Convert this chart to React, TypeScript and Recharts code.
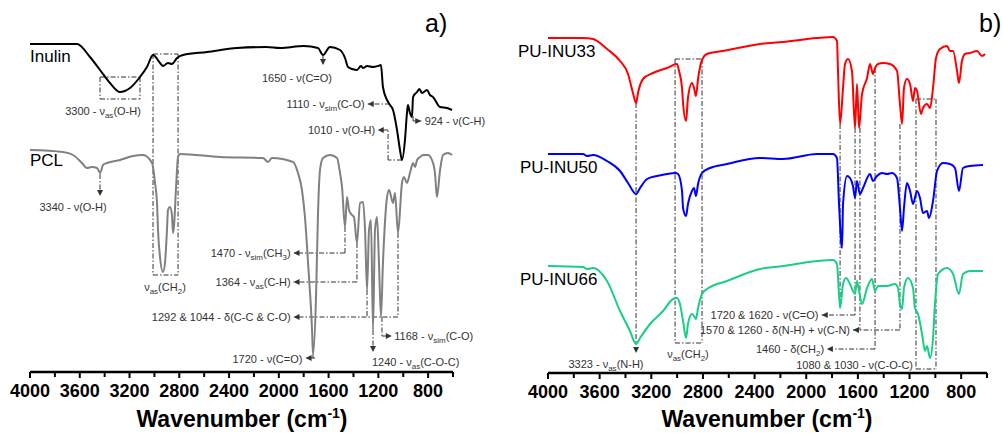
import React from 'react';
import { LineChart, Line, XAxis, YAxis, ReferenceLine, ReferenceDot } from 'recharts';

const FONT = '"Liberation Sans", Arial, Helvetica, sans-serif';
const INK = '#333333';

// [wavenumber (cm-1), transmittance (a.u., spectra stacked with offsets)]
const inulin: [number, number][] = [
  [4000, 328], [3622, 328], [3518, 315], [3437, 302], [3357, 289], [3277, 280], [3196, 284],
  [3116, 295], [3060, 305], [3011, 317], [2955, 309], [2931, 306], [2891, 309], [2859, 308],
  [2818, 314], [2770, 317], [2577, 320], [2336, 324], [2100, 325], [1990, 324], [1800, 326],
  [1685, 324], [1645, 317], [1589, 325], [1508, 322], [1468, 314], [1444, 305], [1410, 303],
  [1372, 302], [1340, 306], [1323, 304], [1290, 306], [1243, 305], [1203, 306], [1179, 307],
  [1163, 285], [1130, 272], [1106, 267], [1082, 262], [1050, 242], [1026, 222], [1010, 212],
  [986, 232], [970, 259], [962, 267], [946, 259], [930, 255], [921, 275], [889, 280],
  [870, 283], [849, 279], [809, 282], [785, 277], [761, 275], [704, 265], [648, 264], [608, 262],
];

const pcl: [number, number][] = [
  [4000, 222], [3735, 220], [3654, 217], [3582, 209], [3542, 204], [3502, 205], [3461, 204],
  [3437, 199], [3413, 207], [3381, 209], [3277, 212], [3172, 216], [3092, 217], [3019, 209],
  [2995, 189], [2979, 169], [2971, 142], [2955, 115], [2931, 100], [2915, 109], [2899, 142],
  [2891, 162], [2875, 165], [2859, 157], [2851, 139], [2843, 145], [2826, 185], [2810, 215],
  [2794, 218], [2473, 215], [2127, 214], [2087, 210], [2055, 214], [1886, 210], [1846, 199],
  [1814, 182], [1790, 155], [1765, 109], [1733, 42], [1725, 17], [1701, 75], [1685, 159],
  [1669, 202], [1645, 214], [1589, 217], [1532, 214], [1508, 199], [1492, 185], [1468, 145],
  [1452, 175], [1436, 162], [1412, 157], [1396, 155], [1372, 129], [1347, 169], [1323, 170],
  [1307, 142], [1291, 82], [1275, 142], [1259, 152], [1243, 42], [1227, 142], [1211, 155],
  [1195, 109], [1179, 55], [1163, 109], [1130, 175], [1114, 182], [1082, 169], [1066, 179],
  [1042, 139], [1010, 189], [994, 195], [970, 189], [946, 199], [921, 209], [905, 205],
  [889, 212], [865, 215], [841, 217], [801, 217], [769, 212], [745, 199], [729, 175],
  [704, 202], [680, 217], [640, 219], [608, 217],
];

const puInu33: [number, number][] = [
  [4000, 335], [3729, 335], [3651, 334], [3543, 324], [3442, 312], [3380, 299], [3342, 280],
  [3318, 270], [3303, 280], [3264, 294], [3187, 300], [3078, 305], [3001, 309], [2985, 302],
  [2962, 285], [2954, 270], [2931, 252], [2916, 275], [2885, 290], [2869, 285], [2854, 277],
  [2838, 294], [2807, 313], [2769, 319], [2645, 322], [2358, 329], [2180, 331], [1917, 335],
  [1793, 336], [1762, 332], [1754, 302], [1738, 249], [1715, 285], [1700, 309], [1676, 314],
  [1646, 302], [1622, 245], [1607, 289], [1591, 245], [1568, 279], [1529, 295], [1506, 309],
  [1483, 299], [1467, 305], [1444, 309], [1405, 310], [1351, 309], [1297, 302], [1274, 269],
  [1258, 249], [1243, 285], [1220, 294], [1196, 289], [1173, 272], [1158, 285], [1142, 282],
  [1111, 259], [1096, 265], [1065, 269], [1041, 265], [1018, 285], [995, 315], [964, 324],
  [910, 327], [887, 322], [863, 322], [832, 302], [817, 290], [794, 312], [770, 319],
  [732, 320], [677, 322], [639, 317], [615, 319],
];

const puInu50: [number, number][] = [
  [4000, 219], [3729, 219], [3698, 217], [3651, 218], [3543, 212], [3442, 202], [3380, 190],
  [3318, 179], [3287, 185], [3233, 194], [3156, 197], [3078, 199], [3016, 200], [2993, 199],
  [2962, 182], [2954, 165], [2931, 157], [2916, 169], [2885, 182], [2869, 185], [2854, 177],
  [2838, 189], [2807, 200], [2745, 205], [2614, 209], [2358, 215], [2180, 214], [1917, 219],
  [1793, 219], [1762, 215], [1746, 169], [1723, 125], [1715, 169], [1684, 197], [1661, 195],
  [1638, 187], [1622, 175], [1607, 192], [1584, 179], [1560, 185], [1506, 199], [1483, 192],
  [1452, 197], [1413, 200], [1374, 199], [1336, 200], [1297, 195], [1274, 165], [1258, 142],
  [1243, 165], [1220, 190], [1196, 182], [1173, 169], [1142, 182], [1119, 175], [1096, 160],
  [1065, 162], [1049, 155], [1018, 172], [987, 202], [941, 210], [887, 209], [848, 205],
  [817, 182], [786, 205], [732, 207], [631, 208],
];

const puInu66: [number, number][] = [
  [4000, 107], [3729, 106], [3698, 104], [3651, 105], [3543, 92], [3442, 62], [3365, 42],
  [3318, 29], [3287, 35], [3210, 49], [3109, 62], [3032, 74], [3001, 75], [2978, 69],
  [2954, 52], [2931, 35], [2916, 49], [2885, 59], [2869, 57], [2854, 54], [2838, 65],
  [2807, 79], [2769, 84], [2614, 92], [2358, 104], [2180, 107], [1917, 112], [1793, 113],
  [1762, 109], [1738, 65], [1715, 89], [1692, 95], [1661, 89], [1638, 82], [1622, 79],
  [1607, 92], [1591, 82], [1568, 69], [1529, 85], [1491, 94], [1467, 82], [1444, 87],
  [1374, 87], [1312, 89], [1289, 85], [1274, 69], [1258, 64], [1243, 85], [1212, 95],
  [1173, 85], [1158, 65], [1134, 59], [1103, 39], [1080, 22], [1065, 27], [1041, 15],
  [1018, 35], [1003, 69], [979, 99], [910, 105], [863, 99], [817, 79], [786, 99],
  [732, 102], [631, 102],
];

const wnTicks = [4000, 3800, 3600, 3400, 3200, 3000, 2800, 2600, 2400, 2200, 2000, 1800, 1600, 1400, 1200, 1000, 800, 600];
const wnLabels = [4000, 3600, 3200, 2800, 2400, 2000, 1600, 1200, 800];

type Seg = [number, number, number, number];
type Arrow = [number, number, 'left' | 'right' | 'down'];
type Note = [number, number, 'start' | 'middle' | 'end', string];

// panel a) band assignments
const segsA: Seg[] = [
  [3437, 295, 3116, 295], [3437, 273, 3116, 273], [3437, 295, 3437, 273], [3116, 295, 3116, 273],
  [3011, 318, 2810, 318], [3011, 97, 2810, 97], [3011, 318, 3011, 97], [2810, 318, 2810, 97],
  [1645, 316, 1645, 308],
  [1106, 268, 1285, 268],
  [1010, 212, 1122, 212], [1122, 212, 1122, 242], [1122, 242, 1205, 242],
  [921, 256, 921, 251], [921, 251, 855, 251],
  [3437, 198, 3437, 178],
  [1468, 145, 1468, 119], [1468, 119, 1882, 119],
  [1372, 129, 1372, 90], [1372, 90, 1882, 90],
  [1291, 82, 1291, 55], [1042, 139, 1042, 55], [1042, 55, 1882, 55],
  [1171, 55, 1171, 36], [1171, 36, 1092, 36],
  [1243, 42, 1243, 22],
  [1725, 17, 1725, 14], [1709, 14, 1785, 14],
];
const arrowsA: Arrow[] = [
  [1645, 307, 'down'], [1285, 268, 'left'], [1205, 242, 'left'], [855, 251, 'right'],
  [3437, 176, 'down'], [1882, 119, 'left'], [1882, 90, 'left'], [1882, 55, 'left'],
  [1092, 36, 'right'], [1243, 20, 'down'], [1785, 14, 'left'],
];
const notesA: Note[] = [
  [3413, 261, 'middle', '3300 - ν_{as}(O-H)'],
  [2915, 85, 'middle', 'ν_{as}(CH_{2})'],
  [1854, 294, 'middle', '1650 - ν(C=O)'],
  [1310, 268, 'end', '1110 - ν_{sim}(C-O)'],
  [1225, 242, 'end', '1010 - ν(O-H)'],
  [828, 251, 'start', '924 - ν(C-H)'],
  [3654, 165, 'middle', '3340 - ν(O-H)'],
  [1905, 119, 'end', '1470 - ν_{sim}(CH_{3})'],
  [1905, 90, 'end', '1364 - ν_{as}(C-H)'],
  [1905, 55, 'end', '1292 & 1044 - δ(C-C & C-O)'],
  [1072, 36, 'start', '1168 - ν_{sim}(C-O)'],
  [1251, 10, 'start', '1240 - ν_{as}(C-O-C)'],
  [1810, 13, 'end', '1720 - ν(C=O)'],
];

// panel b) band assignments
const segsB: Seg[] = [
  [3318, 270, 3318, 29],
  [3016, 314, 2807, 314], [3016, 30, 2807, 30], [3016, 314, 3016, 30], [2807, 314, 2807, 30],
  [1738, 249, 1738, 65],
  [1622, 245, 1622, 58], [1622, 58, 1880, 58],
  [1584, 245, 1584, 43], [1274, 249, 1274, 43], [1274, 43, 1638, 43],
  [1467, 305, 1467, 24], [1467, 24, 1840, 24],
  [1150, 274, 995, 274], [1150, 4, 995, 4], [1150, 274, 1150, 4], [995, 274, 995, 4],
];
const arrowsB: Arrow[] = [
  [3318, 20, 'down'], [1880, 58, 'left'], [1638, 43, 'left'], [1840, 24, 'left'],
];
const notesB: Note[] = [
  [3551, 9, 'middle', '3323 - ν_{as}(N-H)'],
  [2916, 19, 'middle', 'ν_{as}(CH_{2})'],
  [1905, 58, 'end', '1720 & 1620 - ν(C=O)'],
  [1661, 43, 'end', '1570 & 1260 - δ(N-H) + ν(C-N)'],
  [1862, 24, 'end', '1460 - δ(CH_{2})'],
  [1173, 8, 'end', '1080 & 1030 - ν(C-O-C)'],
];

const rows = (pts: [number, number][]) => pts.map(([wn, t]) => ({ wn, t }));

// text with _{...} subscripts
const RichText = ({ x, y, anchor, text }: { x: number; y: number; anchor: string; text: string }) => {
  const parts = text.split(/(_\{[^}]*\})/).filter(Boolean);
  let wasSub = false;
  return (
    <text x={x} y={y + 4} textAnchor={anchor as any} fontSize={11} fontFamily={FONT} fill={INK}>
      {parts.map((p, i) => {
        if (p.startsWith('_{')) {
          wasSub = true;
          return <tspan key={i} fontSize={8} dy={3}>{p.slice(2, -1)}</tspan>;
        }
        const dy = wasSub ? -3 : 0;
        wasSub = false;
        return <tspan key={i} dy={dy}>{p}</tspan>;
      })}
    </text>
  );
};

const arrowPath = (x: number, y: number, dir: string) => {
  if (dir === 'left') return `M${x},${y} L${x + 6},${y - 3} L${x + 6},${y + 3} Z`;
  if (dir === 'right') return `M${x},${y} L${x - 6},${y - 3} L${x - 6},${y + 3} Z`;
  return `M${x},${y} L${x - 3},${y - 6} L${x + 3},${y - 6} Z`;
};

const WnTick = (props: any) => {
  const { x, y, payload } = props;
  const major = wnLabels.includes(payload.value);
  return (
    <g>
      <line x1={x} x2={x} y1={y} y2={y + (major ? 6 : 5)} stroke="#000" strokeWidth={2} />
      {major && (
        <text x={x} y={y + 25} textAnchor="middle" fontSize={18} fontWeight="bold" fontFamily={FONT} fill="#000">
          {payload.value}
        </text>
      )}
    </g>
  );
};

const annotations = (id: string, segs: Seg[], arrows: Arrow[], notes: Note[]) => [
  ...segs.map((s, i) => (
    <ReferenceLine
      key={`${id}-s${i}`}
      segment={[{ x: s[0], y: s[1] }, { x: s[2], y: s[3] }]}
      stroke={INK}
      strokeWidth={1}
      strokeDasharray="5 2 1.5 2"
    />
  )),
  ...arrows.map((a, i) => (
    <ReferenceDot
      key={`${id}-a${i}`}
      x={a[0]}
      y={a[1]}
      r={0}
      shape={(p: any) => <path d={arrowPath(p.cx, p.cy, a[2])} fill={INK} />}
    />
  )),
  ...notes.map((n, i) => (
    <ReferenceDot
      key={`${id}-n${i}`}
      x={n[0]}
      y={n[1]}
      r={0}
      shape={(p: any) => <RichText x={p.cx} y={p.cy} anchor={n[2]} text={n[3]} />}
    />
  )),
];

const xAxis = (
  <XAxis
    dataKey="wn"
    type="number"
    domain={[600, 4000]}
    reversed
    ticks={wnTicks}
    interval={0}
    tick={<WnTick />}
    tickLine={false}
    tickSize={0}
    tickMargin={0}
    height={40}
    axisLine={{ stroke: '#000', strokeWidth: 2.5 }}
    allowDataOverflow
  />
);
const yAxis = <YAxis hide type="number" domain={[0, 350]} allowDataOverflow />;

export default function App() {
  return (
    <div style={{ position: 'absolute', left: 0, top: 0, width: 1003, height: 433, background: '#fff', overflow: 'hidden' }}>
      <div style={{ position: 'absolute', left: 0, top: 0 }}>
        <LineChart width={515} height={433} margin={{ top: 22, right: 62, bottom: 21, left: 30 }} style={{ overflow: 'visible' }}>
          {xAxis}
          {yAxis}
          {annotations('a', segsA, arrowsA, notesA)}
          <Line data={rows(pcl)} dataKey="t" type="monotone" dot={false} stroke="#808080" strokeWidth={2} isAnimationActive={false} />
          <Line data={rows(inulin)} dataKey="t" type="monotone" dot={false} stroke="#000000" strokeWidth={2} isAnimationActive={false} />
        </LineChart>
      </div>
      <div style={{ position: 'absolute', left: 520, top: 0 }}>
        <LineChart width={483} height={433} margin={{ top: 23, right: 16, bottom: 20, left: 28 }} style={{ overflow: 'visible' }}>
          {xAxis}
          {yAxis}
          {annotations('b', segsB, arrowsB, notesB)}
          <Line data={rows(puInu66)} dataKey="t" type="monotone" dot={false} stroke="#19cf84" strokeWidth={2} isAnimationActive={false} />
          <Line data={rows(puInu50)} dataKey="t" type="monotone" dot={false} stroke="#0000ff" strokeWidth={2} isAnimationActive={false} />
          <Line data={rows(puInu33)} dataKey="t" type="monotone" dot={false} stroke="#ff0000" strokeWidth={2} isAnimationActive={false} />
        </LineChart>
      </div>
      <svg width={1003} height={433} style={{ position: 'absolute', left: 0, top: 0, pointerEvents: 'none' }} fontFamily={FONT}>
        <text x={30} y={62} fontSize={17} fill="#000">Inulin</text>
        <text x={30} y={166} fontSize={17} fill="#000">PCL</text>
        <text x={518} y={57} fontSize={17} fill="#000">PU-INU33</text>
        <text x={520} y={173} fontSize={17} fill="#000">PU-INU50</text>
        <text x={520} y={285} fontSize={17} fill="#000">PU-INU66</text>
        <text x={425} y={32} fontSize={25} fill="#000">a)</text>
        <text x={979} y={32} fontSize={25} fill="#000">b)</text>
        <text x={242} y={427} textAnchor="middle" fontSize={23} fontWeight="bold" fill="#000">
          Wavenumber (cm<tspan fontSize={14} dy={-9}>-1</tspan><tspan dy={9}>)</tspan>
        </text>
        <text x={767} y={427} textAnchor="middle" fontSize={23} fontWeight="bold" fill="#000">
          Wavenumber (cm<tspan fontSize={14} dy={-9}>-1</tspan><tspan dy={9}>)</tspan>
        </text>
      </svg>
    </div>
  );
}
